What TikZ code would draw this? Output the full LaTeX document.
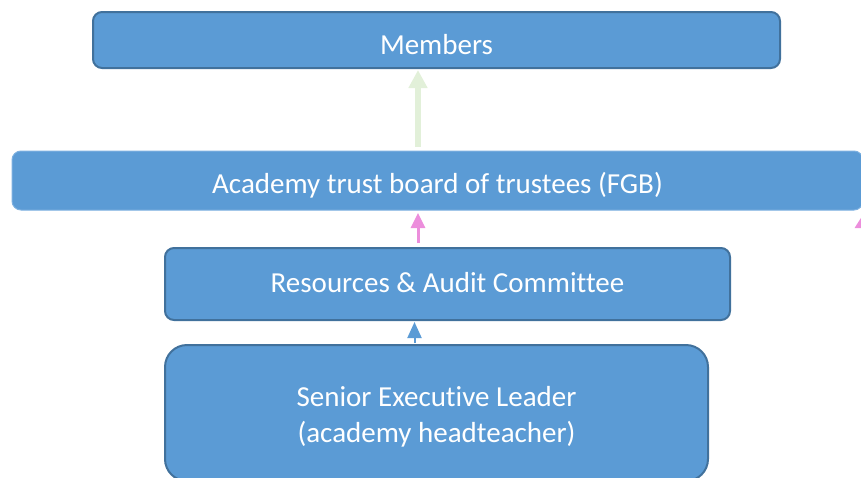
\documentclass[tikz,border=0pt]{standalone}
\usepackage{fontspec}
\setmainfont[Ligatures=NoCommon]{Carlito}
\usetikzlibrary{arrows.meta}
\definecolor{boxfill}{HTML}{5B9BD5}
\definecolor{boxline}{HTML}{41719C}
\definecolor{softline}{HTML}{7DB0E0}
\definecolor{paleGreen}{HTML}{E2F0D9}
\definecolor{orchid}{HTML}{EC8EDC}
\tikzset{
  box/.style={draw=boxline, line width=2pt, fill=boxfill, rounded corners=9pt,
    inner sep=0pt, outer sep=0pt},
  caption/.style={text=white, font=\fontsize{29}{36}\selectfont, anchor=base,
    inner sep=0pt},
}
\begin{document}
\begin{tikzpicture}[x=1pt, y=-1pt]
  \useasboundingbox (0,0) rectangle (861,477);
  \clip (0,0) rectangle (861,477);

  % governance tiers, top to bottom
  \node[box, minimum width=687pt, minimum height=56pt] (members) at (436.5,40) {};
  \node[box, draw=softline, line width=1pt, minimum width=851pt, minimum height=59pt] (trust) at (437.5,180.5) {};
  \node[box, minimum width=565pt, minimum height=72pt] (committee) at (447.5,284) {};
  \node[box, rounded corners=22pt, minimum width=543pt, minimum height=136pt] (sel) at (436.5,413) {};

  % tier captions, set on their baselines
  \node[caption] (membersText) at (436.5,54) {Members};
  \node[caption] (trustText) at (437.5,193) {Academy trust board of trustees (FGB)};
  \node[caption] (committeeText) at (447.5,292) {Resources \& Audit Committee};
  \node[caption] (selText) at (436.5,406) {Senior Executive Leader};
  \node[caption] (selText2) at (436.5,442) {(academy headteacher)};

  % reporting lines
  \draw[paleGreen, line width=6pt, -{Triangle[width=18pt,length=18pt]}]
    ([xshift=-19.5pt,yshift=4pt]trust.north) -- ([xshift=-18.5pt,yshift=-2pt]members.south);
  \draw[orchid, line width=3pt, -{Triangle[width=14pt,length=15pt]}]
    ([xshift=-29.5pt,yshift=5pt]committee.north) -- ([xshift=-19.5pt,yshift=-3pt]trust.south);
  \draw[boxfill, line width=2pt, -{Triangle[width=14pt,length=16pt]}]
    ([xshift=-22pt,yshift=2pt]sel.north) -- ([xshift=-33pt,yshift=-2pt]committee.south);
  \coordinate (sideTip) at (864,213);
  \coordinate (sideTail) at (864,250);
  \draw[orchid, line width=3pt, -{Triangle[width=18pt,length=15pt]}] (sideTail) -- (sideTip);
\end{tikzpicture}
\end{document}
